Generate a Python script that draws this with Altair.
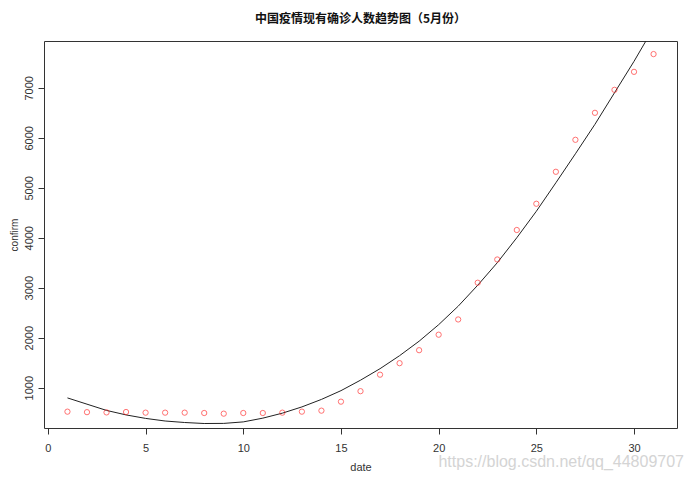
import altair as alt
import pandas as pd

# ---- data ----
dates = list(range(1, 32))
confirm = [520, 510, 505, 513, 500, 500, 500, 493, 480, 493, 493, 500, 520, 540,
           720, 930, 1260, 1490, 1750, 2060, 2365, 3100, 3565, 4155, 4680, 5320,
           5960, 6500, 6960, 7320, 7675]
fitted = [795, 670, 545, 455, 385, 333, 303, 283, 285, 315, 390, 490, 615, 765,
          940, 1150, 1380, 1640, 1930, 2260, 2630, 3050, 3500, 4000, 4530, 5100,
          5680, 6270, 6900, 7530, 8200]
x_ticks = [0, 5, 10, 15, 20, 25, 30]
y_ticks = [1000, 2000, 3000, 4000, 5000, 6000, 7000]
x_domain = [-0.2, 32.2]
y_domain = [193, 7937]
title_text = "中国疫情现有确诊人数趋势图（5月份）"
watermark = "https://blog.csdn.net/qq_44809707"

df = pd.DataFrame({"date": dates, "confirm": confirm, "fitted": fitted})

FONT = "Liberation Sans"
AXC = "#333333"

x_enc = alt.X(
    "date:Q",
    scale=alt.Scale(domain=x_domain, nice=False, zero=False),
    axis=alt.Axis(values=x_ticks, title="date", domain=False, grid=False,
                  tickSize=6, tickColor=AXC, labelPadding=8, labelFont=FONT,
                  labelFontSize=11, labelColor=AXC, titleFont=FONT,
                  titleFontSize=11, titleFontWeight="normal", titleColor=AXC,
                  titlePadding=8),
)
y_scale = alt.Scale(domain=y_domain, nice=False, zero=False)
y_axis = alt.Axis(values=y_ticks, format="d", title="confirm", domain=False,
                  grid=False, tickSize=6, tickColor=AXC, labelAngle=270,
                  labelPadding=4, labelFont=FONT, labelFontSize=11,
                  labelColor=AXC, titleFont=FONT, titleFontSize=10,
                  titleFontWeight="normal", titleColor=AXC, titlePadding=4)

points = alt.Chart(df).mark_point(
    shape="circle", filled=False, color="#ff2020", size=28, strokeWidth=0.9
).encode(
    x=x_enc,
    y=alt.Y("confirm:Q", scale=y_scale, axis=y_axis),
)

curve = alt.Chart(df).mark_line(color="#222222", strokeWidth=1, clip=True).encode(
    x=alt.X("date:Q", scale=alt.Scale(domain=x_domain, nice=False, zero=False)),
    y=alt.Y("fitted:Q", scale=y_scale),
)

wm = alt.Chart(pd.DataFrame({"t": [watermark]})).mark_text(
    align="right", baseline="middle", font=FONT, fontSize=16, color="#d4d4d4"
).encode(text="t:N", x=alt.value(640), y=alt.value(421))

chart = alt.layer(curve, points, wm).properties(
    width=633,
    height=387,
    background="white",
    title=alt.TitleParams(title_text, font="Noto Sans CJK SC", fontSize=12,
                          fontWeight="bold", color="#111111", anchor="middle",
                          offset=15),
    autosize=alt.AutoSizeParams(type="none"),
    padding={"left": 36, "top": 33, "right": 8, "bottom": 46},
).configure_view(stroke="#333333", strokeWidth=1)

chart.save("out.html", embed_options={"renderer": "svg", "actions": False})
